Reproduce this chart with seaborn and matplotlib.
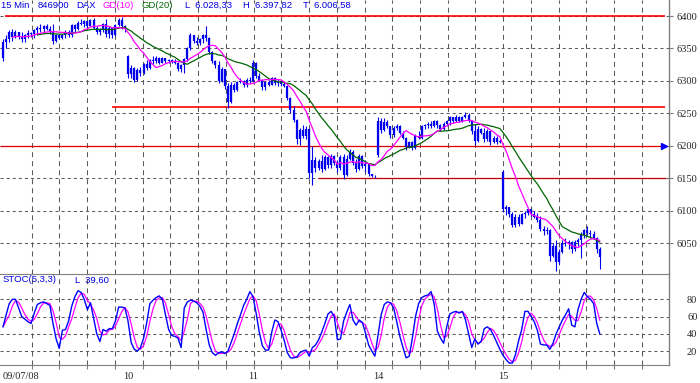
import numpy as np
import pandas as pd
import seaborn as sns
import matplotlib.pyplot as plt

sns.set_style("white")
plt.rcParams['lines.scale_dashes'] = False
plt.rcParams['font.family'] = ['Liberation Sans', 'DejaVu Sans']

# =========================
# DATA (DAX 15 min bars, 09/07/08 - 15/07/08)
# =========================
day_labels = ["09/07/08", "10", "11", "14", "15"]
day_start = [0, 40, 80, 120, 160]

opn = [6335, 6360, 6365, 6375, 6368, 6375, 6368, 6364, 6370, 6374, 6372, 6378, 6382, 6380, 6384, 6380, 6376, 6362, 6370, 6366,
       6370, 6376, 6370, 6386, 6380, 6390, 6388, 6392, 6385, 6394, 6382, 6375, 6380, 6388, 6372, 6382, 6370, 6386, 6394, 6384,
       6338, 6310, 6320, 6302, 6316, 6312, 6326, 6320, 6332, 6330, 6336, 6328, 6335, 6330, 6332, 6329, 6328, 6318, 6324, 6334,
       6350, 6370, 6362, 6358, 6364, 6370, 6366, 6345, 6330, 6324, 6300, 6318, 6292, 6268, 6294, 6286, 6298, 6300, 6294, 6302,
       6300, 6328, 6308, 6302, 6290, 6298, 6294, 6304, 6296, 6300, 6295, 6292, 6274, 6255, 6240, 6210, 6225, 6215, 6226, 6158,
       6178, 6165, 6176, 6164, 6182, 6170, 6184, 6174, 6165, 6182, 6155, 6180, 6190, 6174, 6164, 6184, 6168, 6172, 6156, 6153,
       6185, 6238, 6224, 6236, 6230, 6216, 6228, 6231, 6220, 6212, 6198, 6206, 6196, 6215, 6212, 6230, 6232, 6234, 6230, 6238,
       6232, 6226, 6234, 6238, 6244, 6238, 6245, 6238, 6244, 6248, 6238, 6222, 6208, 6226, 6220, 6210, 6222, 6205, 6212, 6206,
       6160, 6102, 6105, 6094, 6078, 6090, 6080, 6094, 6096, 6102, 6095, 6090, 6085, 6072, 6068, 6070, 6030, 6045, 6020, 6036,
       6050, 6048, 6052, 6040, 6052, 6055, 6062, 6070, 6066, 6064, 6058, 6040]
high = [6365, 6370, 6378, 6380, 6378, 6376, 6375, 6372, 6378, 6376, 6380, 6384, 6388, 6386, 6388, 6385, 6388, 6372, 6372, 6372,
        6378, 6378, 6388, 6387, 6392, 6395, 6394, 6393, 6396, 6397, 6384, 6382, 6390, 6396, 6385, 6383, 6388, 6397, 6397.82, 6386,
        6340, 6325, 6321, 6320, 6322, 6328, 6332, 6334, 6338, 6338, 6337, 6337, 6336, 6334, 6333, 6333, 6329, 6326, 6336, 6352,
        6374, 6371, 6368, 6366, 6372, 6384, 6367, 6346, 6332, 6330, 6322, 6319, 6296, 6298, 6296, 6300, 6304, 6302, 6304, 6306,
        6332, 6329, 6312, 6303, 6300, 6302, 6306, 6306, 6303, 6302, 6298, 6294, 6275, 6262, 6241, 6228, 6232, 6230, 6228, 6200,
        6182, 6180, 6185, 6186, 6184, 6188, 6185, 6178, 6185, 6188, 6186, 6195, 6194, 6180, 6188, 6185, 6178, 6173, 6157, 6155,
        6244, 6243, 6242, 6240, 6231, 6230, 6233, 6232, 6222, 6213, 6208, 6208, 6218, 6222, 6232, 6234, 6236, 6238, 6240, 6239,
        6233, 6236, 6240, 6246, 6245, 6247, 6246, 6246, 6252, 6250, 6239, 6234, 6230, 6228, 6228, 6226, 6223, 6215, 6215, 6210,
        6162, 6108, 6106, 6098, 6095, 6094, 6096, 6100, 6104, 6103, 6100, 6096, 6092, 6076, 6074, 6071, 6050, 6054, 6040, 6054,
        6057, 6055, 6053, 6055, 6058, 6067, 6072, 6076, 6070, 6068, 6059, 6044]
low = [6330, 6350, 6360, 6362, 6366, 6364, 6360, 6360, 6366, 6368, 6366, 6370, 6376, 6374, 6378, 6372, 6357, 6360, 6364, 6364,
       6366, 6368, 6368, 6376, 6378, 6386, 6383, 6382, 6384, 6380, 6372, 6370, 6376, 6368, 6366, 6366, 6369, 6384, 6380, 6376,
       6305, 6305, 6298, 6300, 6308, 6310, 6316, 6318, 6326, 6328, 6326, 6327, 6328, 6327, 6328, 6326, 6315, 6314, 6312, 6330,
       6348, 6358, 6355, 6356, 6358, 6362, 6342, 6327, 6320, 6297, 6298, 6288, 6258, 6266, 6283, 6285, 6296, 6290, 6290, 6296,
       6298, 6305, 6300, 6286, 6286, 6292, 6293, 6294, 6292, 6292, 6290, 6270, 6250, 6236, 6203, 6201, 6212, 6210, 6150, 6139,
       6160, 6162, 6160, 6163, 6166, 6165, 6170, 6160, 6162, 6148, 6154, 6178, 6170, 6160, 6162, 6165, 6160, 6153, 6152, 6151,
       6183, 6219, 6222, 6228, 6212, 6214, 6224, 6218, 6210, 6193, 6196, 6193, 6195, 6210, 6211, 6226, 6228, 6228, 6229, 6228,
       6222, 6224, 6230, 6232, 6235, 6237, 6236, 6237, 6242, 6236, 6218, 6201, 6205, 6218, 6205, 6208, 6201, 6204, 6203, 6204,
       6098, 6093, 6090, 6074, 6074, 6076, 6079, 6088, 6093, 6092, 6088, 6082, 6068, 6062, 6064, 6023, 6028, 6006.58, 6018, 6035,
       6045, 6040, 6035, 6038, 6045, 6027, 6058, 6062, 6058, 6056, 6035, 6010]
close = [6360, 6365, 6375, 6368, 6375, 6368, 6364, 6370, 6374, 6372, 6378, 6382, 6380, 6384, 6380, 6376, 6362, 6370, 6366, 6370,
         6376, 6370, 6386, 6380, 6390, 6388, 6392, 6385, 6394, 6382, 6375, 6380, 6388, 6372, 6382, 6370, 6386, 6394, 6384, 6380,
         6310, 6320, 6302, 6316, 6312, 6326, 6320, 6332, 6330, 6336, 6328, 6335, 6330, 6332, 6329, 6328, 6318, 6324, 6334, 6350,
         6370, 6362, 6358, 6364, 6370, 6366, 6345, 6330, 6324, 6300, 6318, 6292, 6268, 6294, 6286, 6298, 6300, 6294, 6302, 6300,
         6328, 6308, 6302, 6290, 6298, 6294, 6304, 6296, 6300, 6295, 6292, 6274, 6255, 6240, 6210, 6225, 6215, 6226, 6158, 6178,
         6165, 6176, 6164, 6182, 6170, 6184, 6174, 6165, 6182, 6155, 6180, 6190, 6174, 6164, 6184, 6168, 6172, 6156, 6153, 6154,
         6238, 6224, 6236, 6230, 6216, 6228, 6231, 6220, 6212, 6198, 6206, 6196, 6215, 6212, 6230, 6232, 6234, 6230, 6238, 6232,
         6226, 6234, 6238, 6244, 6238, 6245, 6238, 6244, 6248, 6238, 6222, 6208, 6226, 6220, 6210, 6222, 6205, 6212, 6206, 6208,
         6102, 6105, 6094, 6078, 6090, 6080, 6094, 6096, 6102, 6095, 6090, 6085, 6072, 6068, 6070, 6030, 6045, 6020, 6036, 6050,
         6048, 6052, 6040, 6052, 6055, 6062, 6070, 6066, 6064, 6058, 6040, 6028.33]

# STOC(5,3,3) slow %K (blue line)
stoch_k = [48, 62, 75, 80, 80, 70, 60, 57, 54, 52, 64, 74, 76, 77, 75, 73, 52, 34, 23, 44,
           45, 55, 72, 83, 90, 88, 80, 68, 76, 58, 40, 31, 45, 43, 46, 46, 55, 71, 71, 70,
           55, 30, 22, 20, 24, 35, 53, 75, 79, 82, 84, 80, 62, 45, 38, 37, 35, 24, 70, 77,
           79, 78, 76, 72, 65, 45, 27, 18, 15, 18, 19, 17, 20, 30, 40, 52, 62, 73, 80, 89,
           83, 64, 42, 26, 21, 21, 42, 56, 54, 44, 32, 18, 12, 12, 13, 18, 20, 21, 14, 24,
           27, 33, 42, 52, 63, 66, 60, 33, 34, 55, 65, 74, 56, 50, 56, 53, 41, 27, 20, 14,
           38, 62, 74, 77, 76, 70, 54, 37, 24, 12, 14, 35, 60, 75, 82, 84, 85, 89, 74, 43,
           35, 29, 48, 63, 65, 66, 64, 66, 56, 40, 24, 34, 28, 31, 46, 48, 45, 38, 30, 22,
           15, 10, 6, 6, 16, 32, 45, 66, 66, 60, 54, 44, 28, 27, 27, 22, 29, 40, 48, 56,
           62, 69, 50, 48, 68, 80, 88, 83, 80, 75, 52, 39.6]

price_ticks = [6050, 6100, 6150, 6200, 6250, 6300, 6350, 6400]
stoch_ticks = [20, 40, 60, 80]

df = pd.DataFrame({"open": opn, "high": high, "low": low, "close": close, "k": stoch_k})
df["bar"] = np.arange(len(df))
df["gd10"] = df["close"].rolling(10, min_periods=4).mean()
df["gd20"] = df["close"].rolling(20, min_periods=12).mean()
df["d"] = df["k"].rolling(3, min_periods=1).mean()

# =========================
# FIGURE / LAYOUT (pixel based)
# =========================
W, H = 700, 383
PX = 3.125          # pixels per bar
X0 = 3              # pixel of first bar
def bx(px):
    return (px - X0) / PX

fig = plt.figure(figsize=(W / 100, H / 100), dpi=100)
ax = fig.add_axes([0, 1 - 274 / H, 669 / W, 274 / H])
ax2 = fig.add_axes([0, 1 - 365 / H, 669 / W, 91 / H])

grid_col = "#5a5a5a"
grid_x = np.arange(9.2, 213, 8.875)

for a in (ax, ax2):
    a.set_xlim(bx(0), bx(669))
    for s in ("left", "top", "bottom", "right"):
        a.spines[s].set_visible(False)
    a.spines["right"].set_visible(True)
    a.spines["right"].set_color("#808080")
    a.spines["right"].set_linewidth(1.0)
    for gx in grid_x:
        a.axvline(gx, color=grid_col, lw=0.75, dashes=(3.6, 2.9), zorder=0)

ax2.spines["top"].set_visible(True)
ax2.spines["top"].set_color("#808080")
ax2.spines["bottom"].set_visible(True)
ax2.spines["bottom"].set_color("#808080")

# ---- price panel ----
ax.set_ylim(6002.2, 6424.7)
for t in price_ticks:
    ax.axhline(t, color=grid_col, lw=0.75, dashes=(2.2, 2.2), zorder=0)

# level lines
ax.hlines(6400, bx(5), bx(665), color="#ff0000", lw=1.2, zorder=2)
ax.hlines(6260, bx(112), bx(665), color="#ff0000", lw=1.2, zorder=2)
ax.hlines(6200, bx(0), bx(663), color="#e00000", lw=0.9, zorder=2)
ax.hlines(6150, bx(318), bx(666), color="#c00000", lw=0.9, zorder=2)
ax.plot([bx(664)], [6200], marker=">", ms=4, color="#0000ff", zorder=3)

# bars
ax.vlines(df["bar"], df["low"], df["high"], color="#0000ee", lw=0.8, zorder=3)
body_lo = np.minimum(df["open"], df["close"])
body_hi = np.maximum(df["open"], df["close"])
ax.vlines(df["bar"], body_lo, body_hi, color="#0000ee", lw=1.6, zorder=3)

sns.lineplot(data=df, x="bar", y="gd20", ax=ax, color="#006400", lw=0.9, estimator=None, zorder=4)
sns.lineplot(data=df, x="bar", y="gd10", ax=ax, color="#ff00ff", lw=0.9, estimator=None, zorder=5)

ax.yaxis.tick_right()
ax.set_yticks(price_ticks)
ax.set_yticklabels([str(t) for t in price_ticks], family="Liberation Serif", fontsize=7.5)
ax.tick_params(axis="y", which="major", length=3, width=0.8, color="#808080", pad=2.5, right=True, left=False)
ax.set_xticks([])
ax.set_xlabel("")
ax.set_ylabel("")

# ---- stochastic panel ----
ax2.set_ylim(3.75, 109.4)
for t in stoch_ticks:
    ax2.axhline(t, color=grid_col, lw=0.75, dashes=(2.2, 2.2), zorder=0)
sns.lineplot(data=df, x="bar", y="d", ax=ax2, color="#ff00ff", lw=0.9, estimator=None, zorder=3)
sns.lineplot(data=df, x="bar", y="k", ax=ax2, color="#0000ff", lw=1.0, estimator=None, zorder=4)

ax2.yaxis.tick_right()
ax2.set_yticks(stoch_ticks)
ax2.set_yticklabels([str(t) for t in stoch_ticks], family="Liberation Serif", fontsize=7.5)
ax2.tick_params(axis="y", length=0, pad=13, right=True, left=False)

ax2.set_xticks(day_start)
ax2.set_xticklabels(day_labels, family="Liberation Serif", fontsize=7.5)
ax2.get_xticklabels()[0].set_horizontalalignment("left")
ax2.tick_params(axis="x", which="major", length=0, pad=5, bottom=True)
ax2.set_xticks(grid_x, minor=True)
ax2.tick_params(axis="x", which="minor", length=3, width=0.8, color="#808080", direction="out", bottom=True)
ax2.set_xlabel("")
ax2.set_ylabel("")

# ---- header texts ----
blue = "#0000dd"
head = [(1, "15 Min", blue), (38, "846900", blue), (76, "DAX", blue),
        (103, "GD(10)", "#ff00ff"), (142, "GD(20)", "#006400"),
        (185, "L  6.028,33", blue), (243, "H  6.397,82", blue), (303, "T  6.006,58", blue)]
for px, txt, col in head:
    fig.text(px / W, 1 - 5.5 / H, txt, color=col, fontsize=6.8, va="center", ha="left")

fig.text(3 / W, 1 - 280 / H, "STOC(5,3,3)", color=blue, fontsize=6.8, va="center", ha="left")
fig.text(75 / W, 1 - 280 / H, "L  39,60", color=blue, fontsize=6.8, va="center", ha="left")

fig.savefig("out.png", dpi=100)
